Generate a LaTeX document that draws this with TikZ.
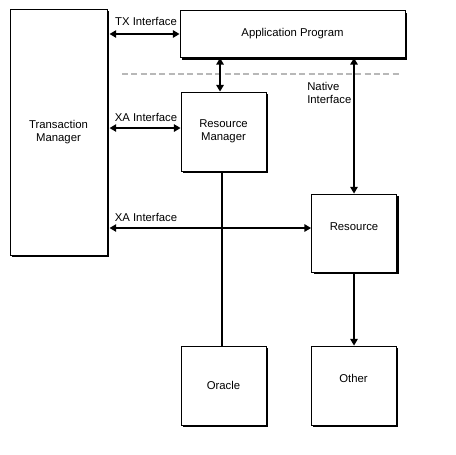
\documentclass[tikz,border=0pt]{standalone}
\usepackage{fontspec}
\setmainfont{Liberation Sans}
\usetikzlibrary{arrows.meta,shadows}

\tikzset{
  box/.style={draw, line width=0.6pt, fill=white, inner sep=0pt, align=center,
    drop shadow={shadow xshift=1.6pt, shadow yshift=-1.6pt, fill=black, opacity=1}},
  tip/.tip={Triangle[length=5pt,width=5.5pt]},
  link/.style={line width=1.6pt},
}

\begin{document}
\begin{tikzpicture}[x=0.75pt, y=-0.75pt, every node/.style={font=\fontsize{8.5}{9.5}\selectfont}]
    \useasboundingbox[fill=white] (0,0) rectangle (456,454);
    % boxes
    \node[box, minimum width=72.75pt, minimum height=184.5pt] (tm) at (58.5,132) {Transaction\\Manager};
    \node[box, minimum width=168.75pt, minimum height=35.25pt] (app) at (292.5,34) {Application Program};
    \node[box, minimum width=63.75pt, minimum height=59.25pt] (rm) at (223.5,131.5) {Resource\\Manager};
    \node[box, minimum width=63.75pt, minimum height=58.5pt] (res) at (354,233) {\raisebox{10pt}{Resource}};
    \node[box, minimum width=63.75pt, minimum height=59.25pt] (ora) at (223.5,385.5) {Oracle};
    \node[box, minimum width=63.75pt, minimum height=59.25pt] (oth) at (353.5,385.5) {\raisebox{11pt}{Other}};
    % boundary
    \draw[black!28, line width=1.5pt, dash pattern=on 4.5pt off 2.5pt] (122,74) -- (400,74);
    % interfaces
    \coordinate (rmtop) at ([xshift=-2.6pt]rm.north);
    \coordinate (rmbot) at ([xshift=-1.1pt]rm.south);
    \coordinate (xa1) at ([yshift=2.6pt]rm.west);
    \coordinate (xa2) at ([yshift=3.75pt]res.west);
    \draw[link, tip-tip] ([xshift=1.6pt]tm.east |- app.west) -- (app.west);
    \draw[link, tip-tip] (app.south -| rmtop) -- (rmtop);
    \draw[link, tip-tip] (app.south -| res.north) -- (res.north);
    \draw[link, tip-tip] ([xshift=1.6pt]tm.east |- xa1) -- (xa1);
    \draw[link, tip-tip] ([xshift=1.6pt]tm.east |- xa2) -- (xa2);
    \draw[link] (rmbot) -- (rmbot |- ora.north);
    \draw[link, -tip] (res.south) -- (res.south |- oth.north);
    % labels
    \node (txlab) at (146,21) {TX Interface};
    \node (xalab1) at (146,117) {XA Interface};
    \node (xalab2) at (146,217) {XA Interface};
    \node[align=left, anchor=west, inner sep=0pt] (natlab) at (307,93) {Native\\Interface};
\end{tikzpicture}
\end{document}
